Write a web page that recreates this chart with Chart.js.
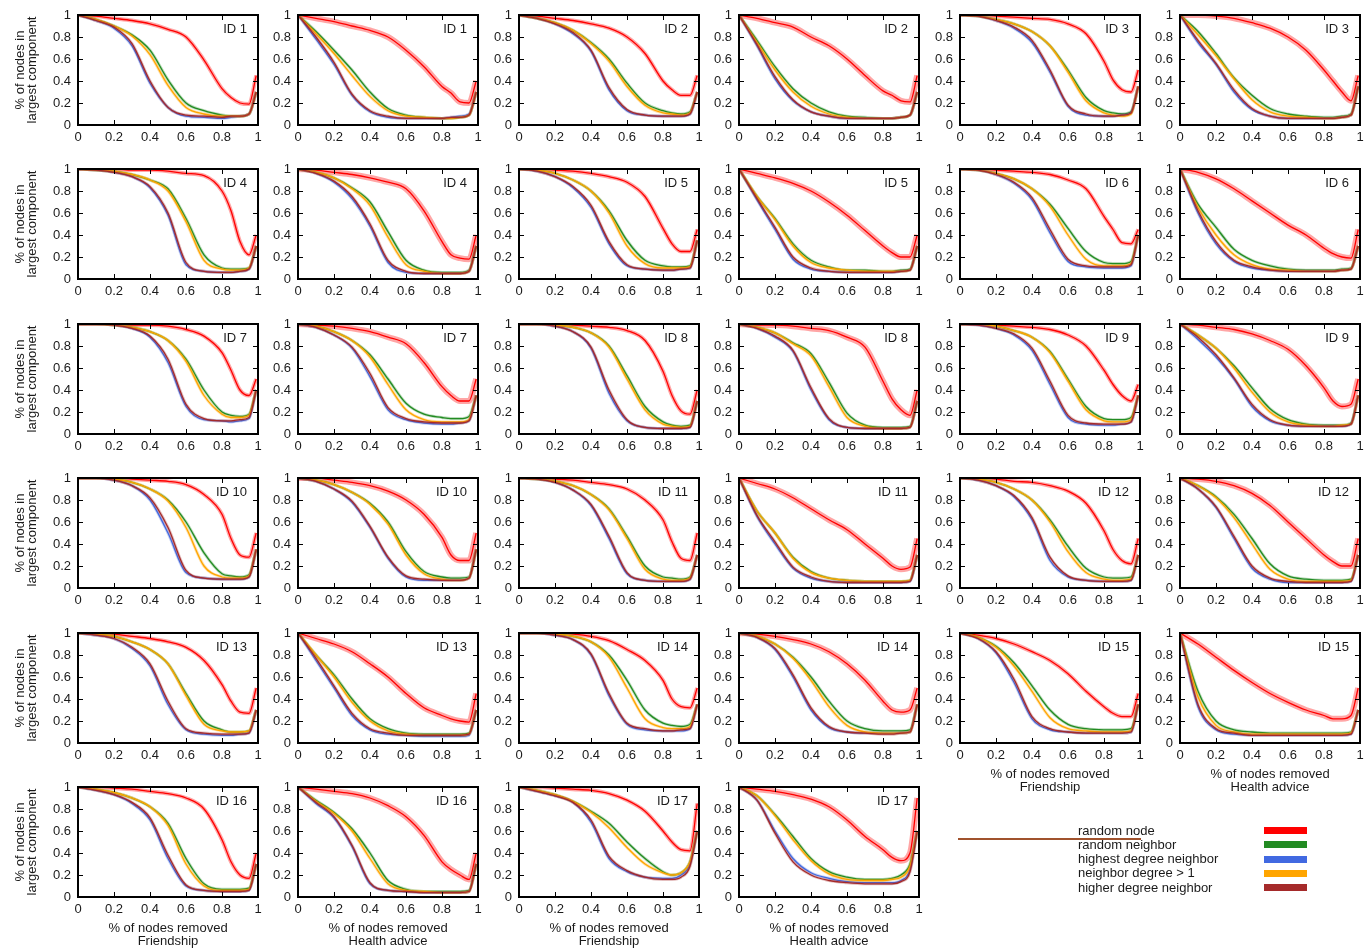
<!DOCTYPE html>
<html>
<head>
<meta charset="utf-8">
<title>Percolation by removal strategy</title>
<script src="https://cdn.jsdelivr.net/npm/chart.js@4.4.1/dist/chart.umd.min.js"></script>
<style>
    body {
        margin: 0;
        width: 1366px;
        height: 952px;
        position: relative;
        overflow: hidden;
        background: #fff;
        font-family: "Liberation Sans", Arial, sans-serif;
    }
    canvas { position: absolute; }
    .legend-text {
        position: absolute;
        left: 1078px;
        font-size: 13px;
        line-height: 14px;
        color: #1a1a1a;
        white-space: nowrap;
    }
    .legend-swatch {
        position: absolute;
        left: 1264px;
        width: 43px;
        height: 7px;
    }
    .legend-rule {
        position: absolute;
        left: 958px;
        top: 838px;
        width: 183px;
        height: 2px;
        background: #a0522d;
    }
</style>
</head>
<body>
<div class="legend-rule"></div>
<script>
// fraction of nodes removed (x positions shared by every curve)
const removed = [0, 0.1, 0.2, 0.3, 0.4, 0.5, 0.6, 0.7, 0.8, 0.85, 0.9, 0.95, 0.99];
const tickValues = [0, 0.2, 0.4, 0.6, 0.8, 1];

const strategies = ['random node', 'random neighbor', 'highest degree neighbor', 'neighbor degree > 1', 'higher degree neighbor'];
const strategyColors = ['#ff0000', '#228b22', '#4169e1', '#ffa500', '#a52a2a'];
const bandColors = ['rgba(255,0,0,0.35)', 'rgba(34,139,34,0.3)', 'rgba(65,105,225,0.3)', 'rgba(255,165,0,0.35)', 'rgba(165,42,42,0.3)'];

// each network: one row per strategy, same order as `strategies`
const friendship1 = [
    [1, .99, .97, .95, .92, .87, .8, .59, .33, .25, .2, .19, .45],
    [1, .96, .9, .82, .68, .41, .2, .13, .09, .08, .08, .1, .3],
    [1, .95, .88, .72, .38, .16, .08, .07, .06, .07, .08, .1, .3],
    [1, .96, .9, .81, .64, .36, .16, .1, .08, .08, .08, .1, .3],
    [1, .95, .89, .74, .4, .16, .09, .08, .07, .08, .08, .1, .3]
];
const health1 = [
    [1, .97, .94, .9, .86, .8, .68, .53, .35, .29, .21, .2, .4],
    [1, .85, .68, .5, .3, .15, .09, .07, .06, .06, .07, .09, .3],
    [1, .78, .55, .27, .12, .07, .06, .06, .06, .07, .08, .1, .3],
    [1, .83, .65, .45, .26, .13, .08, .07, .06, .06, .07, .09, .3],
    [1, .8, .57, .28, .13, .08, .06, .06, .06, .07, .07, .09, .3]
];
const friendship2 = [
    [1, .99, .97, .95, .92, .88, .8, .65, .4, .32, .27, .27, .45],
    [1, .97, .93, .86, .75, .6, .38, .2, .13, .11, .1, .12, .3],
    [1, .97, .92, .83, .67, .32, .13, .09, .08, .08, .08, .1, .3],
    [1, .97, .93, .86, .74, .58, .35, .18, .11, .1, .09, .11, .3],
    [1, .97, .92, .84, .68, .34, .14, .09, .08, .08, .08, .1, .3]
];
const health2 = [
    [1, .97, .93, .89, .8, .72, .6, .45, .31, .27, .22, .21, .45],
    [1, .77, .53, .33, .2, .12, .08, .07, .06, .06, .07, .09, .3],
    [1, .72, .42, .22, .12, .08, .06, .06, .06, .06, .07, .09, .3],
    [1, .75, .5, .3, .17, .1, .07, .06, .06, .06, .07, .09, .3],
    [1, .73, .44, .23, .12, .08, .06, .06, .06, .06, .07, .09, .3]
];
const friendship3 = [
    [1, 1, .99, .98, .97, .96, .92, .83, .58, .41, .32, .3, .5],
    [1, .99, .96, .92, .85, .72, .5, .25, .13, .11, .1, .12, .35],
    [1, .99, .95, .88, .75, .48, .17, .09, .08, .08, .09, .11, .35],
    [1, .99, .96, .92, .85, .72, .48, .22, .11, .09, .08, .1, .35],
    [1, .99, .95, .89, .77, .5, .18, .1, .08, .08, .09, .11, .35]
];
const health3 = [
    [1, 1, .99, .97, .93, .88, .8, .68, .5, .4, .3, .22, .45],
    [1, .85, .65, .43, .27, .15, .1, .08, .07, .07, .08, .1, .35],
    [1, .75, .55, .3, .14, .08, .06, .06, .06, .06, .07, .09, .35],
    [1, .82, .63, .42, .23, .12, .08, .07, .06, .06, .07, .09, .35],
    [1, .77, .56, .32, .15, .08, .06, .06, .06, .06, .07, .09, .35]
];
const friendship4 = [
    [1, 1, 1, .99, .99, .98, .96, .94, .8, .62, .34, .22, .4],
    [1, .99, .98, .95, .9, .82, .55, .22, .1, .09, .09, .1, .3],
    [1, .99, .97, .93, .83, .58, .13, .07, .06, .06, .07, .09, .3],
    [1, .99, .98, .95, .9, .8, .52, .17, .09, .08, .08, .1, .3],
    [1, .99, .97, .93, .84, .6, .15, .07, .06, .06, .07, .09, .3]
];
const health4 = [
    [1, .99, .97, .95, .92, .88, .82, .62, .34, .22, .19, .18, .4],
    [1, .97, .92, .83, .7, .43, .17, .08, .06, .06, .06, .08, .3],
    [1, .96, .88, .73, .48, .15, .06, .05, .05, .05, .05, .07, .3],
    [1, .97, .92, .82, .67, .38, .13, .07, .05, .05, .05, .07, .3],
    [1, .96, .89, .75, .5, .17, .07, .05, .05, .05, .05, .07, .3]
];
const friendship5 = [
    [1, 1, .99, .98, .96, .93, .88, .75, .46, .32, .25, .25, .45],
    [1, .99, .96, .9, .8, .62, .35, .17, .12, .11, .11, .12, .35],
    [1, .98, .93, .83, .65, .32, .12, .09, .08, .08, .09, .1, .35],
    [1, .99, .96, .9, .8, .6, .3, .14, .1, .1, .1, .11, .35],
    [1, .98, .93, .84, .67, .34, .13, .09, .08, .08, .09, .1, .35]
];
const health5 = [
    [1, .96, .92, .87, .8, .7, .58, .44, .3, .24, .2, .2, .4],
    [1, .75, .55, .32, .17, .11, .08, .08, .07, .07, .08, .09, .3],
    [1, .72, .45, .18, .09, .07, .06, .06, .06, .06, .07, .08, .3],
    [1, .75, .54, .3, .15, .1, .08, .07, .07, .07, .07, .08, .3],
    [1, .73, .47, .2, .1, .07, .06, .06, .06, .06, .07, .08, .3]
];
const friendship6 = [
    [1, 1, .99, .98, .97, .95, .9, .82, .57, .45, .33, .32, .45],
    [1, .99, .96, .91, .82, .68, .46, .25, .15, .14, .14, .16, .4],
    [1, .99, .95, .87, .72, .42, .16, .11, .1, .1, .1, .12, .4],
    [1, .99, .96, .91, .82, .66, .4, .18, .12, .12, .12, .14, .4],
    [1, .99, .95, .88, .74, .45, .18, .12, .11, .11, .11, .13, .4]
];
const health6 = [
    [1, .97, .91, .82, .71, .6, .49, .4, .28, .23, .2, .19, .45],
    [1, .68, .47, .27, .17, .12, .09, .08, .08, .08, .09, .1, .3],
    [1, .6, .32, .16, .1, .08, .07, .07, .07, .07, .08, .09, .3],
    [1, .65, .4, .22, .13, .09, .08, .07, .07, .07, .08, .09, .3],
    [1, .62, .34, .17, .11, .08, .07, .07, .07, .07, .08, .09, .3]
];
const friendship7 = [
    [1, 1, 1, .99, .99, .98, .95, .89, .74, .58, .4, .35, .5],
    [1, 1, .99, .97, .93, .85, .68, .4, .2, .17, .16, .18, .4],
    [1, 1, .99, .96, .88, .65, .25, .13, .12, .11, .12, .14, .4],
    [1, 1, .99, .97, .93, .85, .66, .35, .18, .15, .15, .17, .4],
    [1, 1, .99, .96, .89, .68, .27, .14, .12, .12, .13, .15, .4]
];
const health7 = [
    [1, .99, .98, .96, .93, .88, .82, .65, .43, .35, .3, .3, .5],
    [1, .98, .93, .85, .72, .5, .28, .18, .15, .14, .14, .16, .35],
    [1, .97, .9, .78, .52, .22, .13, .1, .09, .09, .1, .12, .35],
    [1, .98, .93, .85, .7, .45, .22, .13, .11, .11, .11, .13, .35],
    [1, .97, .9, .79, .55, .24, .14, .11, .1, .1, .1, .12, .35]
];
const friendship8 = [
    [1, 1, 1, .99, .98, .97, .94, .85, .57, .35, .21, .18, .4],
    [1, 1, .99, .97, .92, .8, .53, .25, .11, .08, .07, .08, .3],
    [1, 1, .98, .93, .78, .37, .12, .06, .05, .05, .05, .06, .3],
    [1, 1, .99, .97, .92, .79, .5, .22, .09, .07, .06, .07, .3],
    [1, 1, .98, .93, .79, .4, .13, .06, .05, .05, .05, .06, .3]
];
const health8 = [
    [1, .99, .99, .98, .96, .94, .88, .79, .48, .32, .22, .17, .4],
    [1, .97, .92, .83, .73, .47, .19, .08, .06, .06, .06, .07, .3],
    [1, .96, .88, .75, .4, .13, .06, .05, .05, .05, .05, .06, .3],
    [1, .97, .92, .82, .71, .43, .15, .07, .05, .05, .05, .06, .3],
    [1, .96, .89, .76, .42, .14, .06, .05, .05, .05, .05, .06, .3]
];
const friendship9 = [
    [1, 1, .99, .98, .97, .95, .9, .8, .58, .45, .35, .3, .45],
    [1, 1, .98, .94, .88, .75, .5, .25, .14, .13, .13, .15, .35],
    [1, .99, .96, .9, .76, .45, .15, .09, .08, .08, .09, .11, .35],
    [1, 1, .98, .94, .88, .74, .48, .22, .12, .11, .11, .13, .35],
    [1, .99, .96, .91, .78, .48, .17, .1, .09, .09, .09, .11, .35]
];
const health9 = [
    [1, .99, .97, .95, .91, .85, .77, .62, .42, .3, .25, .27, .5],
    [1, .9, .78, .62, .42, .23, .13, .09, .08, .08, .08, .1, .35],
    [1, .86, .7, .5, .25, .12, .08, .07, .07, .07, .07, .09, .35],
    [1, .9, .78, .6, .38, .2, .11, .08, .07, .07, .08, .09, .35],
    [1, .88, .72, .51, .27, .13, .08, .07, .07, .07, .07, .09, .35]
];
const friendship10 = [
    [1, 1, 1, .99, .98, .97, .94, .85, .67, .45, .3, .28, .5],
    [1, 1, .99, .96, .9, .8, .6, .32, .13, .11, .1, .12, .35],
    [1, 1, .98, .93, .8, .5, .14, .09, .08, .08, .08, .1, .35],
    [1, 1, .99, .96, .9, .79, .55, .2, .1, .09, .09, .11, .35],
    [1, 1, .98, .93, .82, .55, .16, .09, .08, .08, .08, .1, .35]
];
const health10 = [
    [1, 1, .98, .96, .93, .88, .8, .67, .46, .3, .25, .25, .5],
    [1, .98, .94, .87, .77, .6, .33, .15, .1, .09, .09, .1, .35],
    [1, .97, .9, .78, .55, .27, .1, .07, .07, .07, .07, .09, .35],
    [1, .98, .94, .87, .76, .58, .3, .13, .08, .07, .07, .09, .35],
    [1, .97, .9, .79, .56, .28, .11, .08, .07, .07, .07, .09, .35]
];
const friendship11 = [
    [1, 1, .99, .98, .96, .94, .9, .8, .62, .42, .27, .25, .5],
    [1, .99, .97, .93, .85, .72, .47, .2, .1, .09, .08, .1, .3],
    [1, .99, .96, .89, .75, .45, .13, .07, .06, .06, .06, .08, .3],
    [1, .99, .97, .93, .85, .71, .45, .17, .08, .07, .07, .09, .3],
    [1, .99, .96, .89, .76, .47, .14, .07, .06, .06, .06, .08, .3]
];
const health11 = [
    [1, .95, .9, .82, .72, .62, .53, .4, .27, .2, .17, .19, .45],
    [1, .7, .5, .28, .15, .09, .07, .06, .06, .06, .06, .07, .3],
    [1, .65, .4, .18, .09, .06, .05, .05, .05, .05, .05, .06, .3],
    [1, .7, .5, .27, .14, .09, .07, .06, .06, .06, .06, .07, .3],
    [1, .66, .42, .19, .1, .06, .05, .05, .05, .05, .05, .06, .3]
];
const friendship12 = [
    [1, 1, .99, .97, .96, .93, .88, .77, .52, .35, .25, .22, .45],
    [1, .99, .96, .9, .8, .62, .38, .18, .1, .09, .09, .1, .3],
    [1, .98, .93, .83, .62, .25, .1, .07, .06, .06, .06, .07, .3],
    [1, .99, .96, .9, .8, .6, .33, .14, .08, .07, .07, .08, .3],
    [1, .98, .93, .84, .64, .28, .11, .07, .06, .06, .06, .07, .3]
];
const health12 = [
    [1, .99, .97, .93, .86, .75, .6, .45, .3, .24, .2, .2, .45],
    [1, .93, .83, .67, .45, .22, .11, .08, .07, .07, .07, .08, .3],
    [1, .9, .73, .45, .18, .08, .05, .05, .05, .05, .05, .06, .3],
    [1, .93, .82, .64, .4, .17, .08, .06, .06, .06, .06, .07, .3],
    [1, .9, .74, .47, .2, .09, .06, .05, .05, .05, .05, .06, .3]
];
const friendship13 = [
    [1, 1, .99, .97, .95, .92, .87, .75, .53, .38, .28, .27, .5],
    [1, .99, .97, .92, .85, .72, .45, .2, .12, .1, .1, .11, .3],
    [1, .98, .95, .86, .7, .35, .12, .08, .07, .07, .08, .09, .3],
    [1, .99, .97, .92, .85, .72, .43, .17, .11, .1, .1, .11, .3],
    [1, .98, .95, .87, .72, .38, .13, .09, .08, .08, .08, .09, .3]
];
const health13 = [
    [1, .95, .9, .83, .72, .6, .45, .32, .25, .22, .2, .19, .45],
    [1, .8, .62, .4, .22, .13, .09, .08, .08, .08, .08, .09, .3],
    [1, .75, .5, .25, .12, .08, .07, .06, .06, .06, .06, .07, .3],
    [1, .8, .6, .37, .2, .11, .08, .07, .07, .07, .07, .08, .3],
    [1, .77, .52, .27, .13, .09, .07, .07, .07, .07, .07, .08, .3]
];
const friendship14 = [
    [1, 1, 1, .99, .97, .93, .85, .75, .57, .4, .33, .32, .5],
    [1, 1, .99, .97, .92, .8, .57, .3, .18, .16, .15, .17, .35],
    [1, 1, .98, .94, .8, .43, .17, .12, .11, .11, .11, .13, .35],
    [1, 1, .99, .97, .92, .78, .5, .22, .14, .13, .13, .15, .35],
    [1, 1, .98, .94, .81, .45, .18, .13, .11, .11, .12, .13, .35]
];
const health14 = [
    [1, .99, .97, .94, .9, .83, .72, .57, .38, .3, .28, .3, .5],
    [1, .97, .9, .78, .6, .38, .2, .13, .11, .11, .11, .12, .35],
    [1, .96, .85, .6, .3, .14, .1, .09, .09, .09, .09, .1, .35],
    [1, .97, .9, .77, .57, .33, .16, .1, .09, .09, .09, .1, .35],
    [1, .96, .86, .62, .32, .15, .1, .09, .08, .08, .09, .1, .35]
];
const friendship15 = [
    [1, .98, .95, .9, .83, .75, .63, .47, .33, .27, .24, .24, .45],
    [1, .96, .88, .73, .52, .3, .17, .13, .12, .12, .12, .13, .35],
    [1, .95, .82, .55, .22, .12, .1, .09, .09, .09, .09, .1, .35],
    [1, .96, .87, .7, .47, .23, .13, .11, .1, .1, .1, .11, .35],
    [1, .95, .83, .58, .24, .13, .1, .09, .09, .09, .09, .1, .35]
];
const health15 = [
    [1, .9, .78, .66, .55, .45, .37, .3, .25, .22, .22, .25, .5],
    [1, .47, .2, .12, .1, .09, .09, .09, .09, .09, .09, .1, .3],
    [1, .33, .12, .08, .07, .07, .07, .07, .07, .07, .07, .08, .3],
    [1, .42, .16, .1, .08, .08, .08, .08, .08, .08, .08, .09, .3],
    [1, .35, .13, .09, .07, .07, .07, .07, .07, .07, .07, .08, .3]
];
const friendship16 = [
    [1, 1, .99, .98, .96, .94, .9, .8, .52, .32, .2, .17, .4],
    [1, .98, .95, .9, .82, .67, .35, .12, .07, .07, .07, .08, .3],
    [1, .97, .93, .85, .7, .35, .1, .06, .05, .05, .05, .06, .3],
    [1, .98, .95, .9, .82, .65, .3, .1, .06, .06, .06, .07, .3],
    [1, .97, .93, .86, .72, .38, .11, .06, .05, .05, .05, .06, .3]
];
const health16 = [
    [1, .98, .96, .94, .9, .83, .73, .56, .32, .25, .2, .16, .4],
    [1, .88, .77, .62, .4, .15, .07, .05, .05, .05, .05, .06, .3],
    [1, .85, .72, .46, .12, .06, .05, .04, .04, .04, .04, .05, .3],
    [1, .87, .76, .6, .35, .12, .06, .05, .04, .04, .04, .05, .3],
    [1, .86, .73, .47, .13, .06, .05, .04, .04, .04, .04, .05, .3]
];
const friendship17 = [
    [1, 1, .99, .98, .97, .94, .88, .78, .6, .5, .43, .42, .85],
    [1, .97, .93, .87, .78, .67, .5, .35, .23, .2, .22, .32, .6],
    [1, .96, .92, .86, .68, .35, .23, .18, .17, .17, .2, .3, .6],
    [1, .97, .93, .87, .77, .63, .45, .3, .22, .2, .22, .32, .6],
    [1, .96, .92, .86, .7, .37, .24, .18, .16, .16, .18, .28, .6]
];
const health17 = [
    [1, .98, .96, .93, .89, .82, .7, .55, .43, .36, .33, .4, .9],
    [1, .92, .75, .55, .35, .23, .18, .16, .16, .17, .2, .3, .6],
    [1, .88, .6, .35, .22, .17, .14, .13, .13, .13, .15, .25, .6],
    [1, .92, .74, .52, .33, .21, .16, .15, .15, .16, .18, .28, .6],
    [1, .88, .58, .32, .2, .15, .13, .12, .12, .12, .14, .23, .6]
];

// grid order: row by row, Friendship then Health advice for each ID
const panels = [
    friendship1, health1, friendship2, health2, friendship3, health3,
    friendship4, health4, friendship5, health5, friendship6, health6,
    friendship7, health7, friendship8, health8, friendship9, health9,
    friendship10, health10, friendship11, health11, friendship12, health12,
    friendship13, health13, friendship14, health14, friendship15, health15,
    friendship16, health16, friendship17, health17
];

Chart.defaults.font.family = '"Liberation Sans", Arial, sans-serif';
Chart.defaults.font.size = 13;
Chart.defaults.color = '#1a1a1a';

// closed frame with inward ticks on all four sides, plus the ID tag
const framePlugin = {
    id: 'frame',
    afterDatasetsDraw(chart, args, opts) {
        const ctx = chart.ctx;
        const a = chart.chartArea;
        const xs = chart.scales.x, ys = chart.scales.y;
        ctx.save();
        ctx.strokeStyle = '#000';
        ctx.lineWidth = 1;
        ctx.beginPath();
        tickValues.forEach(v => {
            const px = Math.round(xs.getPixelForValue(v)) + 0.5;
            ctx.moveTo(px, a.bottom); ctx.lineTo(px, a.bottom - 5);
            ctx.moveTo(px, a.top); ctx.lineTo(px, a.top + 5);
            const py = Math.round(ys.getPixelForValue(v)) + 0.5;
            ctx.moveTo(a.left, py); ctx.lineTo(a.left + 5, py);
            ctx.moveTo(a.right, py); ctx.lineTo(a.right - 5, py);
        });
        ctx.stroke();
        ctx.lineWidth = 2;
        ctx.strokeRect(a.left, a.top, a.right - a.left, a.bottom - a.top);
        ctx.fillStyle = '#1a1a1a';
        ctx.font = '13px "Liberation Sans", Arial, sans-serif';
        ctx.textAlign = 'right';
        ctx.textBaseline = 'middle';
        ctx.fillText(opts.label, a.right - 11, a.top + 14);
        ctx.restore();
    }
};

const tickLabel = v => String(Math.round(v * 10) / 10);

panels.forEach(function (series, k) {
    const row = Math.floor(k / 6);
    const col = k % 6;
    const id = Math.floor(k / 2) + 1;
    const network = k % 2 ? 'Health advice' : 'Friendship';
    const bottom = k + 6 >= panels.length;

    const yW = col === 0 ? 78 : 40;
    const xH = bottom ? 51 : 22;
    const padTop = 8;
    const plotLeft = Math.round(78 + 220.4 * col);
    const plotTop = Math.round(15 + 154.4 * row);

    const canvas = document.createElement('canvas');
    canvas.width = yW + 180 + 12;
    canvas.height = padTop + 110 + xH;
    canvas.style.left = (plotLeft - yW) + 'px';
    canvas.style.top = (plotTop - padTop) + 'px';
    canvas.style.width = canvas.width + 'px';
    canvas.style.height = canvas.height + 'px';
    document.body.appendChild(canvas);

    const datasets = [];
    series.forEach(function (vals, s) {
        const points = removed.map((x, i) => ({x: x, y: vals[i]}));
        const common = {data: points, pointRadius: 0, fill: false, cubicInterpolationMode: 'monotone'};
        datasets.push(Object.assign({}, common, {
            label: strategies[s] + ' (spread)',
            borderColor: bandColors[s],
            borderWidth: s === 0 ? (k % 2 ? 6 : 4) : 3,
            order: (4 - s) * 2 + 1
        }));
        datasets.push(Object.assign({}, common, {
            label: strategies[s],
            borderColor: strategyColors[s],
            borderWidth: 1.3,
            order: (4 - s) * 2
        }));
    });

    const chart = new Chart(canvas.getContext('2d'), {
        type: 'line',
        data: {datasets: datasets},
        options: {
            responsive: false,
            animation: false,
            events: [],
            layout: {padding: {left: 0, top: padTop, right: 12, bottom: 0}},
            plugins: {
                legend: {display: false},
                tooltip: {enabled: false},
                frame: {label: 'ID ' + id}
            },
            scales: {
                x: {
                    type: 'linear',
                    min: 0,
                    max: 1,
                    border: {display: false},
                    grid: {display: false, drawTicks: false},
                    afterBuildTicks: scale => { scale.ticks = tickValues.map(v => ({value: v})); },
                    ticks: {padding: 5, maxRotation: 0, autoSkip: false, callback: tickLabel},
                    title: {
                        display: bottom,
                        text: ['% of nodes removed', network],
                        font: {size: 13, lineHeight: '13px'},
                        padding: {top: 0, bottom: 0}
                    },
                    afterFit: scale => {
                        scale.height = xH;
                        scale.paddingLeft = 0;
                        scale.paddingRight = 0;
                    }
                },
                y: {
                    type: 'linear',
                    min: 0,
                    max: 1,
                    border: {display: false},
                    grid: {display: false, drawTicks: false},
                    afterBuildTicks: scale => { scale.ticks = tickValues.map(v => ({value: v})); },
                    ticks: {padding: 7, autoSkip: false, callback: tickLabel},
                    title: {
                        display: col === 0,
                        text: ['% of nodes in', 'largest component'],
                        font: {size: 13, lineHeight: '12px'},
                        padding: {top: 14, bottom: 0}
                    },
                    afterFit: scale => {
                        scale.width = yW;
                        scale.paddingTop = 0;
                        scale.paddingBottom = 0;
                    }
                }
            }
        },
        plugins: [framePlugin]
    });

    // keep the plot frame on its grid cell whatever the layout decided
    const area = chart.chartArea;
    canvas.style.left = (plotLeft - area.left) + 'px';
    canvas.style.top = (plotTop - area.top) + 'px';
});

// legend block in the free bottom-right cell
strategies.forEach(function (name, s) {
    const cy = 830.7 + 14.25 * s;
    const text = document.createElement('div');
    text.className = 'legend-text';
    text.textContent = name;
    text.style.top = (cy - 7) + 'px';
    document.body.appendChild(text);

    const swatch = document.createElement('div');
    swatch.className = 'legend-swatch';
    swatch.style.top = (cy - 3.5) + 'px';
    swatch.style.background = strategyColors[s];
    document.body.appendChild(swatch);
});
</script>
</body>
</html>
